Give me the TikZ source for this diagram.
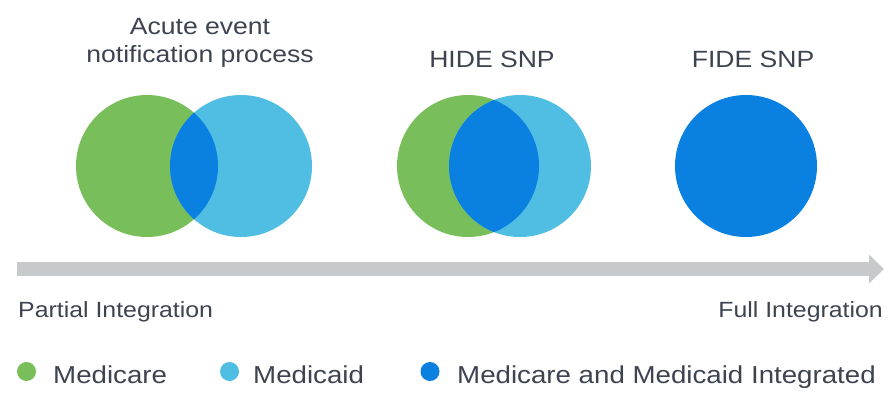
\documentclass[tikz,border=0pt]{standalone}
\usepackage{fontspec}
\setmainfont{Liberation Sans}[FakeStretch=1.13]
\usetikzlibrary{arrows.meta}
\definecolor{careGreen}{HTML}{78BF5C}
\definecolor{caidBlue}{HTML}{50BDE2}
\definecolor{integBlue}{HTML}{0A80E0}
\definecolor{barGray}{HTML}{C8C9CB}
\definecolor{textGray}{HTML}{3D4450}

\begin{document}
\begin{tikzpicture}[
    x = 1pt, y = -1pt,
      care/.style={circle, fill=careGreen, minimum size=142pt, inner sep=0pt},
      caid/.style={circle, fill=caidBlue, minimum size=142pt, inner sep=0pt},
      integ/.style={circle, fill=integBlue, minimum size=142pt, inner sep=0pt},
      title/.style={text=textGray, font=\fontsize{23.5}{28}\selectfont, inner sep=0pt, align=center},
      scaletext/.style={text=textGray, font=\fontsize{22}{26}\selectfont, inner sep=0pt},
      legtext/.style={text=textGray, font=\fontsize{24.5}{28}\selectfont, inner sep=0pt, anchor=base west},
      dot/.style={circle, minimum size=19pt, inner sep=0pt},
      bar/.style={-{Triangle[width=28pt, length=15pt]}, line width=14pt, color=barGray}
  ]
      \useasboundingbox (0, 0) rectangle (896, 400);

      % Acute event notification process
      \node (care1) at (147, 166) [care] {};
      \node (caid1) at (241, 166) [caid] {};
      \begin{scope}
        \clip (care1.center) circle (71);
        \fill[integBlue] (caid1.center) circle (71);
      \end{scope}
      \node (title1) at (200, 18) [title, anchor=north] {Acute event\\notification process};

      % HIDE SNP
      \node (care2) at (468, 166) [care] {};
      \node (caid2) at (520, 166) [caid] {};
      \begin{scope}
        \clip (care2.center) circle (71);
        \fill[integBlue] (caid2.center) circle (71);
      \end{scope}
      \node (title2) at (492, 67) [title, anchor=base] {HIDE SNP};

      % FIDE SNP
      \node (integ3) at (746, 166) [integ] {};
      \node (title3) at (753, 67) [title, anchor=base] {FIDE SNP};

      % Integration scale
      \coordinate (partial) at (17, 269);
      \coordinate (full) at (884, 269);
      \draw[bar] (partial) -- (full);
      \node (partialtext) at (18, 317) [scaletext, anchor=base west] {Partial Integration};
      \node (fulltext) at (883, 317) [scaletext, anchor=base east] {Full Integration};

      % Legend
      \node (dotcare) at (26.5, 371.5) [dot, fill=careGreen] {};
      \node (legcare) at (53, 383) [legtext] {Medicare};
      \node (dotcaid) at (229.5, 371.5) [dot, fill=caidBlue] {};
      \node (legcaid) at (253, 383) [legtext] {Medicaid};
      \node (dotinteg) at (430, 371.5) [dot, fill=integBlue] {};
      \node (leginteg) at (457, 383) [legtext] {Medicare and Medicaid Integrated};
  \end{tikzpicture}
\end{document}
